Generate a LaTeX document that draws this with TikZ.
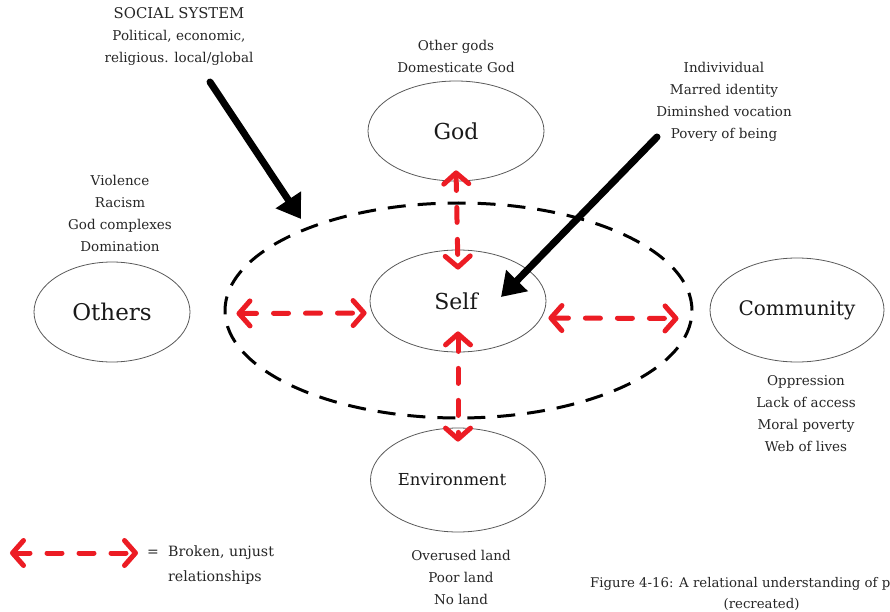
\documentclass[tikz,border=0pt]{standalone}
\usepackage{fontspec}
\setmainfont{DejaVu Serif}
\usetikzlibrary{arrows.meta,shapes.geometric}
\definecolor{redc}{HTML}{EC1C24}
\definecolor{inkc}{HTML}{262626}
\begin{document}
\begin{tikzpicture}[x=1pt,y=-1pt,
  bubble/.style={ellipse,draw=black!65,line width=0.8pt,inner sep=0pt,text=black!90},
  note/.style={align=center,font=\fontsize{13.5}{22}\selectfont,text=inkc,inner sep=0pt},
  redarrow/.style={draw=redc,line width=5pt,line cap=round,dash pattern=on 15pt off 17pt,
    {Straight Barb[length=11pt,width=25pt,round]}-{Straight Barb[length=11pt,width=25pt,round]}},
  blackarrow/.style={line width=7pt,line cap=round,-{Triangle[length=23pt,width=29pt]}},
  bigring/.style={ellipse,draw=black,line width=3pt,dash pattern=on 18pt off 12pt,inner sep=0pt}]
\useasboundingbox (0,0) rectangle (890,612);
% outer dashed boundary
\node[bigring,minimum width=467pt,minimum height=215pt] (big) at (458.5,310.5) {};
% bubbles
\node[bubble,minimum width=176pt,minimum height=100pt,font=\fontsize{22}{26}\selectfont] (god) at (456,131) {God};
\node[bubble,minimum width=176pt,minimum height=102pt,font=\fontsize{22}{26}\selectfont] (self) at (458,301) {\hspace*{-4pt}Self};
\node[bubble,minimum width=175pt,minimum height=104pt,font=\fontsize{16.5}{20}\selectfont] (env) at (458,480) {\hspace*{-12pt}Environment};
\node[bubble,minimum width=156pt,minimum height=100pt,font=\fontsize{23}{27}\selectfont] (others) at (112,312) {Others};
\node[bubble,minimum width=174pt,minimum height=104pt,font=\fontsize{20}{24}\selectfont] (comm) at (797,310) {Community};
% notes
\node[note] (social) at (179,37) {{\fontsize{14.8}{22}\selectfont SOCIAL SYSTEM}\\Political, economic,\\religious. local/global};
\node[note] (godnote) at (456,56) {Other gods\\Domesticate God};
\node[note] (selfnote) at (724,102) {Indivividual\\Marred identity\\Diminshed vocation\\Povery of being};
\node[note] (othnote) at (120,213) {Violence\\Racism\\God complexes\\Domination};
\node[note] (comnote) at (806,414) {Oppression\\Lack of access\\Moral poverty\\Web of lives};
\node[note] (envnote) at (461,577) {Overused land\\Poor land\\No land};
% black arrows
\coordinate (s1) at (210,82);
\coordinate (t1) at (301,219);
\coordinate (s2) at (657,137);
\coordinate (t2) at (501,297);
\draw[blackarrow] (s1) -- (t1);
\draw[blackarrow] (s2) -- (t2);
% red broken relationships
\draw[redarrow] ([yshift=11pt]god.south) -- ([yshift=-20pt]self.north);
\draw[redarrow] ([yshift=21pt]self.south) -- ([yshift=-14pt]env.north);
\draw[redarrow] ([xshift=13pt,yshift=-3pt]big.west) -- ([xshift=-3pt,yshift=-12pt]self.west);
\draw[redarrow] ([xshift=2pt,yshift=-17pt]self.east) -- ([xshift=-15pt,yshift=-8pt]big.east);
% legend
\coordinate (l1) at (10,553);
\coordinate (l2) at (138,553);
\draw[redarrow] (l1) -- (l2);
\node[note,font=\fontsize{14}{22}\selectfont] (eq) at (153,553) {=};
\node[note,align=left,anchor=west,font=\fontsize{14.2}{25}\selectfont] (legtext) at (168,565.5) {Broken, unjust\\relationships};
% caption
\node[note,anchor=west,font=\fontsize{13.3}{21}\selectfont] (caption) at (590,593.5) {Figure 4-16: A relational understanding of poverty\\(recreated)};
\end{tikzpicture}
\end{document}
